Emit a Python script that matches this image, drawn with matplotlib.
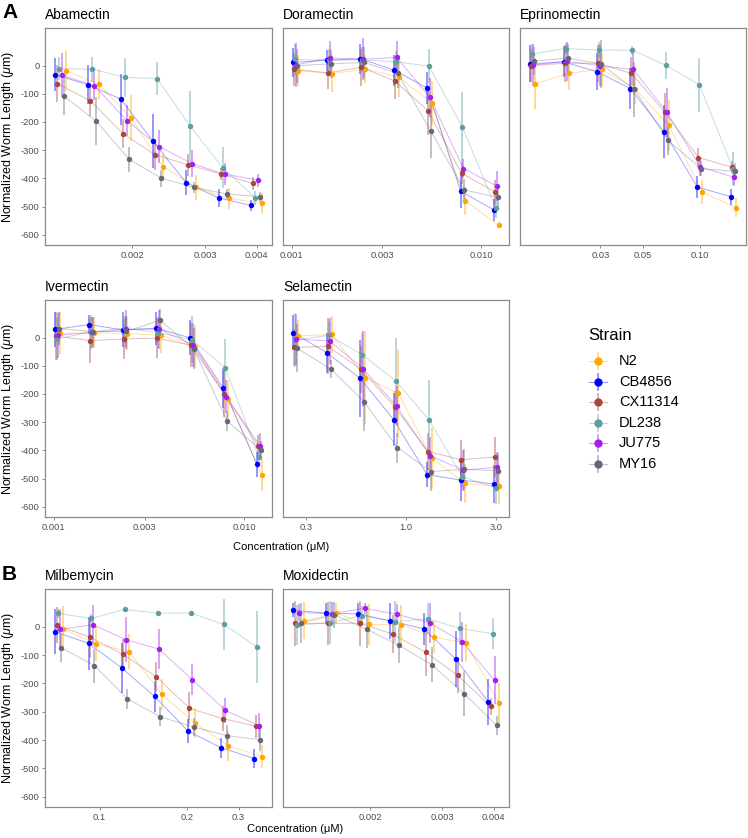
import numpy as np
import matplotlib.pyplot as plt
from matplotlib.ticker import NullLocator

plt.rcParams['font.family'] = ['Liberation Sans', 'DejaVu Sans']
plt.rcParams['mathtext.fontset'] = 'custom'
plt.rcParams['mathtext.rm'] = 'Liberation Sans'
plt.rcParams['mathtext.it'] = 'Liberation Sans:italic'

# strains in legend order
strains = ['N2', 'CB4856', 'CX11314', 'DL238', 'JU775', 'MY16']
colors = ['#FFA500', '#0000FF', '#A8463E', '#5F9EA0', '#A020F0', '#676778']
dodge_rank = [5, 0, 1, 2, 3, 4]  # dodge goes alphabetically, N2 last

# ---- Abamectin ----
abamectin_conc = [0.00134, 0.00161, 0.00193, 0.00231, 0.00278, 0.00333, 0.004]
abamectin_len = [
    [-18, -66, -186, -359, -432, -471, -488],
    [-33, -68, -119, -268, -415, -469, -496],
    [-64, -125, -241, -316, -352, -384, -418],
    [-11, -13, -42, -46, -216, -362, -469],
    [-34, -72, -195, -287, -348, -385, -406],
    [-107, -198, -332, -399, -432, -455, -465],
]
abamectin_sd = [
    [72, 55, 80, 48, 45, 38, 37],
    [58, 70, 90, 95, 45, 33, 20],
    [66, 55, 50, 55, 38, 22, 22],
    [40, 45, 70, 60, 125, 73, 25],
    [78, 50, 55, 58, 47, 38, 23],
    [68, 85, 45, 30, 20, 19, 18],
]

# ---- Doramectin ----
doramectin_conc = [0.00105, 0.00158, 0.00237, 0.00356, 0.00533, 0.008, 0.012]
doramectin_len = [
    [-18, -29, -12, -41, -132, -480, -566],
    [11, 19, 24, -16, -80, -445, -512],
    [-13, -26, -6, -55, -160, -382, -447],
    [22, 18, 21, 13, -2, -219, -504],
    [2, 27, 22, 29, -113, -365, -427],
    [-1, 6, 11, -28, -233, -441, -467],
]
doramectin_sd = [
    [55, 65, 50, 72, 78, 50, 10],
    [50, 37, 53, 55, 58, 60, 38],
    [58, 58, 65, 62, 85, 38, 42],
    [55, 40, 45, 40, 60, 126, 38],
    [78, 60, 75, 58, 68, 33, 53],
    [60, 50, 55, 53, 95, 38, 35],
]

# ---- Eprinomectin ----
eprinomectin_conc = [0.0132, 0.0198, 0.0296, 0.0444, 0.0667, 0.1, 0.15]
eprinomectin_len = [
    [-65, -28, -13, -84, -212, -448, -504],
    [6, 13, -22, -82, -234, -431, -465],
    [0, 8, 8, -28, -166, -326, -360],
    [41, 60, 55, 54, 1, -68, -365],
    [2, 15, 0, -14, -166, -359, -396],
    [16, 26, 6, -84, -265, -366, -374],
]
eprinomectin_sd = [
    [90, 60, 58, 53, 90, 43, 33],
    [65, 55, 65, 72, 95, 40, 29],
    [60, 65, 65, 58, 70, 35, 20],
    [35, 20, 30, 15, 48, 96, 58],
    [75, 70, 72, 57, 87, 33, 32],
    [50, 52, 85, 98, 52, 27, 30],
]

# ---- Ivermectin ----
ivermectin_conc = [0.00105, 0.00158, 0.00237, 0.00356, 0.00533, 0.008, 0.012]
ivermectin_len = [
    [15, 17, 14, 8, -32, -218, -487],
    [29, 46, 27, 33, -1, -180, -449],
    [5, -11, -5, -2, -28, -199, -383],
    [-5, 20, 33, 17, -7, -107, -422],
    [8, 18, 29, 29, -26, -209, -383],
    [32, 21, 22, 61, -39, -296, -398],
]
ivermectin_sd = [
    [75, 55, 58, 62, 77, 68, 58],
    [62, 35, 62, 58, 62, 70, 45],
    [85, 80, 72, 70, 78, 82, 38],
    [75, 60, 45, 55, 85, 103, 30],
    [80, 55, 68, 70, 78, 58, 44],
    [60, 53, 55, 40, 72, 35, 33],
]

# ---- Selamectin ----
selamectin_conc = [0.263, 0.395, 0.593, 0.889, 1.333, 2.0, 3.0]
selamectin_len = [
    [6, 11, -142, -198, -428, -517, -527],
    [17, -54, -145, -291, -486, -505, -519],
    [-35, -31, -113, -246, -404, -433, -423],
    [-9, 8, -61, -153, -292, -493, -533],
    [-6, -12, -111, -243, -419, -470, -460],
    [-38, -111, -228, -390, -475, -467, -472],
]
selamectin_sd = [
    [55, 67, 165, 155, 108, 70, 62],
    [62, 70, 138, 95, 45, 73, 69],
    [65, 100, 82, 58, 65, 70, 70],
    [95, 50, 77, 153, 140, 35, 56],
    [90, 82, 135, 70, 68, 73, 56],
    [85, 32, 105, 53, 68, 73, 62],
]

# ---- Milbemycin ----
milbemycin_conc = [0.0725, 0.0943, 0.1225, 0.159, 0.207, 0.269, 0.35]
milbemycin_len = [
    [-7, -60, -88, -239, -341, -420, -459],
    [-18, -59, -145, -246, -368, -427, -465],
    [6, -37, -98, -176, -288, -324, -351],
    [47, 29, 61, 48, 48, 8, -72],
    [-9, 7, -46, -79, -187, -295, -349],
    [-74, -137, -255, -318, -354, -384, -399],
]
milbemycin_sd = [
    [80, 62, 62, 56, 53, 52, 40],
    [80, 92, 88, 56, 41, 36, 35],
    [65, 72, 53, 53, 56, 44, 40],
    [15, 15, 5, 5, 5, 90, 128],
    [70, 70, 80, 70, 55, 44, 44],
    [50, 60, 35, 33, 33, 38, 38],
]

# ---- Moxidectin ----
moxidectin_conc = [0.00134, 0.00161, 0.00193, 0.00231, 0.00278, 0.00333, 0.004]
moxidectin_len = [
    [21, 47, 8, 7, -37, -57, -269],
    [58, 48, 45, 20, -7, -114, -266],
    [12, 12, 12, -26, -90, -172, -281],
    [6, 14, 39, 18, 28, -6, -25],
    [50, 46, 65, 44, 13, -53, -189],
    [13, 42, -9, -65, -134, -236, -348],
]
moxidectin_sd = [
    [65, 37, 72, 68, 56, 68, 70],
    [25, 35, 40, 65, 56, 100, 80],
    [80, 75, 80, 68, 85, 62, 30],
    [70, 75, 35, 73, 55, 58, 55],
    [30, 40, 20, 35, 72, 70, 85],
    [70, 45, 65, 63, 62, 80, 33],
]

W, H = 748, 838
DODGE = 0.005
cols = [(45, 272), (283, 509), (520, 746)]
rows = [(28, 245), (300, 517), (589, 807)]

panels = [
    ('Abamectin', abamectin_conc, abamectin_len, abamectin_sd,
     [0.002, 0.003, 0.004], ['0.002', '0.003', '0.004'], 0, 0),
    ('Doramectin', doramectin_conc, doramectin_len, doramectin_sd,
     [0.001, 0.003, 0.010], ['0.001', '0.003', '0.010'], 0, 1),
    ('Eprinomectin', eprinomectin_conc, eprinomectin_len, eprinomectin_sd,
     [0.03, 0.05, 0.10], ['0.03', '0.05', '0.10'], 0, 2),
    ('Ivermectin', ivermectin_conc, ivermectin_len, ivermectin_sd,
     [0.001, 0.003, 0.010], ['0.001', '0.003', '0.010'], 1, 0),
    ('Selamectin', selamectin_conc, selamectin_len, selamectin_sd,
     [0.3, 1.0, 3.0], ['0.3', '1.0', '3.0'], 1, 1),
    ('Milbemycin', milbemycin_conc, milbemycin_len, milbemycin_sd,
     [0.1, 0.2, 0.3], ['0.1', '0.2', '0.3'], 2, 0),
    ('Moxidectin', moxidectin_conc, moxidectin_len, moxidectin_sd,
     [0.002, 0.003, 0.004], ['0.002', '0.003', '0.004'], 2, 1),
]

fig = plt.figure(figsize=(W / 100, H / 100), dpi=100)

for title, conc, lens, sds, ticks, tlabels, r, c in panels:
    x0, x1 = cols[c]
    y0, y1 = rows[r]
    ax = fig.add_axes([x0 / W, 1 - y1 / H, (x1 - x0) / W, (y1 - y0) / H])
    lc = np.log10(conc)
    for i in range(len(strains)):
        x = 10 ** (lc + (dodge_rank[i] - 2.5) * DODGE)
        y = np.array(lens[i], dtype=float)
        s = np.array(sds[i], dtype=float)
        col = colors[i]
        ax.plot(x, y, color=col, lw=0.7, alpha=0.35, zorder=1)
        ax.vlines(x, y - s, y + s, color=col, lw=1.3, alpha=0.45, zorder=2)
        ax.plot(x, y, 'o', ms=3.9, color=col, mec='none', zorder=3)
    lo = lc.min() - 2.5 * DODGE
    hi = lc.max() + 2.5 * DODGE
    pad = 0.05 * (hi - lo)
    ax.set_xscale('log')
    ax.set_xlim(10 ** (lo - pad), 10 ** (hi + pad))
    ax.set_xticks(ticks)
    ax.set_xticklabels(tlabels)
    ax.xaxis.set_minor_locator(NullLocator())
    ax.set_ylim(-636, 133)
    ax.set_yticks([0, -100, -200, -300, -400, -500, -600])
    ax.set_yticklabels(['0', '-100', '-200', '-300', '-400', '-500', '-600'])
    for sp in ax.spines.values():
        sp.set_color('#8c8c8c')
        sp.set_linewidth(0.9)
    ax.tick_params(direction='out', length=2.5, width=0.7, color='#8c8c8c',
                   labelsize=6.7, labelcolor='#4d4d4d', pad=1.5)
    if c == 0:
        ax.set_ylabel('Normalized Worm Length ($\\mu$m)', fontsize=9, labelpad=3)
    else:
        ax.tick_params(axis='y', left=False, labelleft=False)
    fig.text(x0 / W, 1 - (y0 - 13) / H, title, fontsize=10, ha='left', va='center')

# panel letters
fig.text(2 / W, 1 - 12 / H, 'A', fontsize=15, fontweight='bold', va='center')
fig.text(2 / W, 1 - 574 / H, 'B', fontsize=15, fontweight='bold', va='center')

# x axis labels
fig.text(281 / W, 1 - 547 / H, 'Concentration (μM)', fontsize=8, ha='center', va='center')
fig.text(295 / W, 1 - 829 / H, 'Concentration (μM)', fontsize=8, ha='center', va='center')

# legend
lax = fig.add_axes([0, 0, 1, 1])
lax.set_xlim(0, W)
lax.set_ylim(H, 0)
lax.axis('off')
lax.text(588, 335, 'Strain', fontsize=12, ha='left', va='center')
for i, (name, col) in enumerate(zip(strains, colors)):
    ky = 361 + 20.6 * i
    lax.plot([589, 607], [ky, ky], color=col, lw=0.8, alpha=0.4)
    lax.plot([598, 598], [ky - 8, ky + 8], color=col, lw=1.3, alpha=0.45)
    lax.plot([598], [ky], 'o', ms=6, color=col, mec='none')
    lax.text(619, ky, name, fontsize=10.5, ha='left', va='center')

fig.savefig('out.png', dpi=100)
